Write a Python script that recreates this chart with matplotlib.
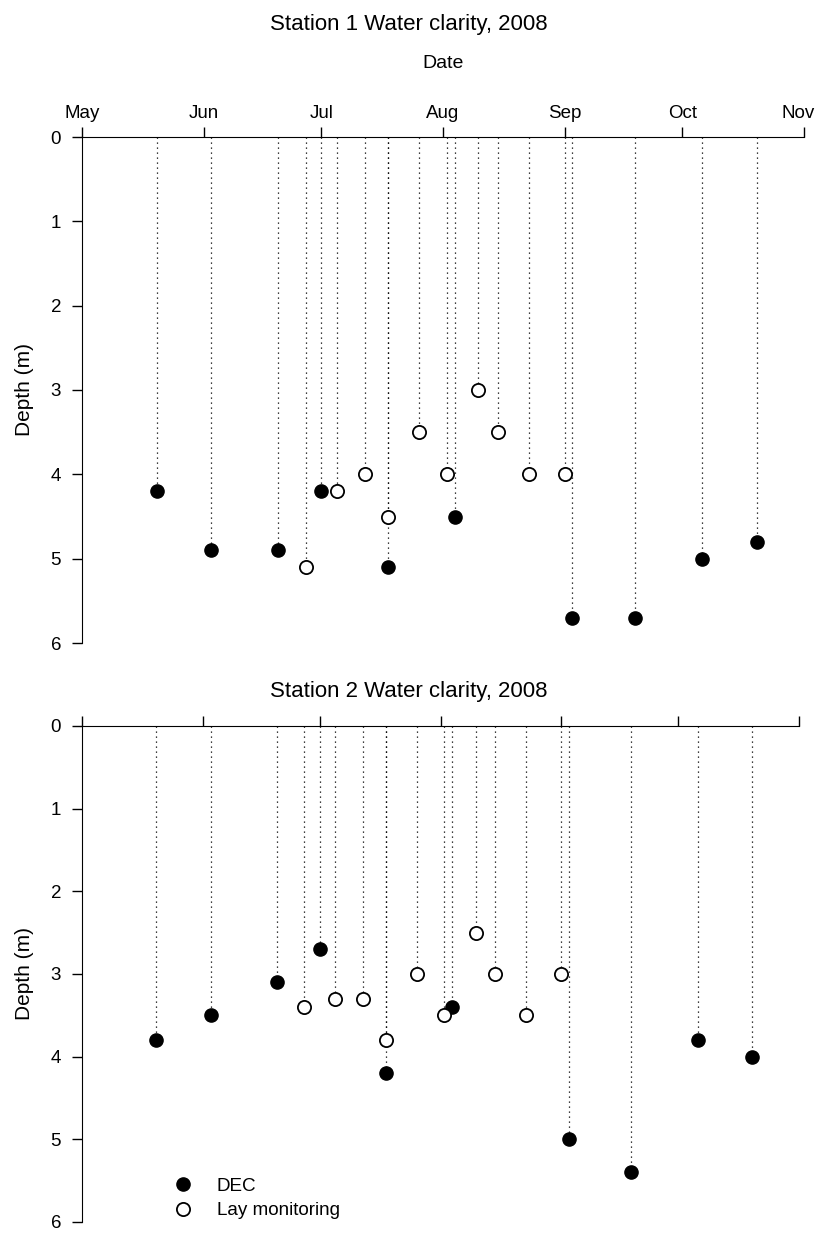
import matplotlib
matplotlib.use("Agg")
import matplotlib.pyplot as plt
import matplotlib.dates as mdates
import matplotlib.transforms as mtransforms
from datetime import date

plt.rcParams['font.family'] = ['Liberation Sans', 'DejaVu Sans']

# sampling dates (same in both stations)
dec_dates = [date(2008, 5, 20), date(2008, 6, 3), date(2008, 6, 20), date(2008, 7, 1),
             date(2008, 7, 18), date(2008, 8, 4), date(2008, 9, 3), date(2008, 9, 19),
             date(2008, 10, 6), date(2008, 10, 20)]
lay_dates = [date(2008, 6, 27), date(2008, 7, 5), date(2008, 7, 12), date(2008, 7, 18),
             date(2008, 7, 26), date(2008, 8, 2), date(2008, 8, 10), date(2008, 8, 15),
             date(2008, 8, 23), date(2008, 9, 1)]

# Secchi depth (m)
st1_dec = [4.2, 4.9, 4.9, 4.2, 5.1, 4.5, 5.7, 5.7, 5.0, 4.8]
st1_lay = [5.1, 4.2, 4.0, 4.5, 3.5, 4.0, 3.0, 3.5, 4.0, 4.0]
st2_dec = [3.8, 3.5, 3.1, 2.7, 4.2, 3.4, 5.0, 5.4, 3.8, 4.0]
st2_lay = [3.4, 3.3, 3.3, 3.8, 3.0, 3.5, 2.5, 3.0, 3.5, 3.0]

titles = ["Station 1 Water clarity, 2008", "Station 2 Water clarity, 2008"]
month_ticks = [date(2008, m, 1) for m in range(5, 12)]

W, H = 817, 1234
fig = plt.figure(figsize=(W / 100, H / 100), dpi=100)
# axes boxes in pixels: left, right, top(y=0), bottom(y=6)
boxes = [(82, 804, 137, 643), (82, 799, 726, 1222)]
title_y = [30, 697]
data = [(st1_dec, st1_lay), (st2_dec, st2_lay)]

for i, (box, (dec, lay)) in enumerate(zip(boxes, data)):
    l, r, t, b = box
    ax = fig.add_axes([l / W, 1 - b / H, (r - l) / W, (b - t) / H])
    ax.vlines(dec_dates, 0, dec, colors='black', linestyles=(0, (1, 3)), linewidth=0.9)
    ax.vlines(lay_dates, 0, lay, colors='black', linestyles=(0, (1, 3)), linewidth=0.9)
    ax.plot(dec_dates, dec, 'o', color='black', markersize=9.5, label='DEC', zorder=3)
    ax.plot(lay_dates, lay, 'o', markerfacecolor='white', markeredgecolor='black',
            markeredgewidth=1.3, markersize=9.5, label='Lay monitoring', zorder=3)
    ax.set_xlim(date(2008, 5, 1), date(2008, 11, 1))
    ax.set_ylim(6, 0)
    ax.set_yticks(range(0, 7))
    ax.spines['right'].set_visible(False)
    ax.spines['bottom'].set_visible(False)
    ax.xaxis.tick_top()
    ax.set_xticks(month_ticks)
    ax.xaxis.set_major_formatter(mdates.DateFormatter('%b'))
    ax.tick_params(axis='both', direction='out', length=7, width=1, labelsize=13.5)
    ax.tick_params(axis='y', pad=8)
    ax.set_ylabel('Depth (m)', fontsize=15)
    ax.yaxis.set_label_coords((34 - l) / (r - l), 0.5)
    fig.text(0.5, 1 - title_y[i] / H, titles[i], ha='center', va='baseline', fontsize=16)
    if i == 0:
        ax.xaxis.set_label_position('top')
        ax.set_xlabel('Date', fontsize=14)
        ax.xaxis.set_label_coords(0.5, 1 + (t - 68) / (b - t))
        # keep "Nov" inside the figure
        fig.canvas.draw()
        last = ax.get_xticklabels()[-1]
        last.set_transform(last.get_transform() +
                           mtransforms.ScaledTranslation(-6 / 100, 0, fig.dpi_scale_trans))
    else:
        ax.tick_params(axis='x', labeltop=False, labelbottom=False)
        ax.legend(loc='upper left', bbox_to_anchor=(164 / W, 1 - 1168 / H),
                  bbox_transform=fig.transFigure, borderpad=0, frameon=False,
                  fontsize=13.6, handletextpad=1.3, labelspacing=0.4, handlelength=1.0)

fig.savefig('out.png', dpi=100)
